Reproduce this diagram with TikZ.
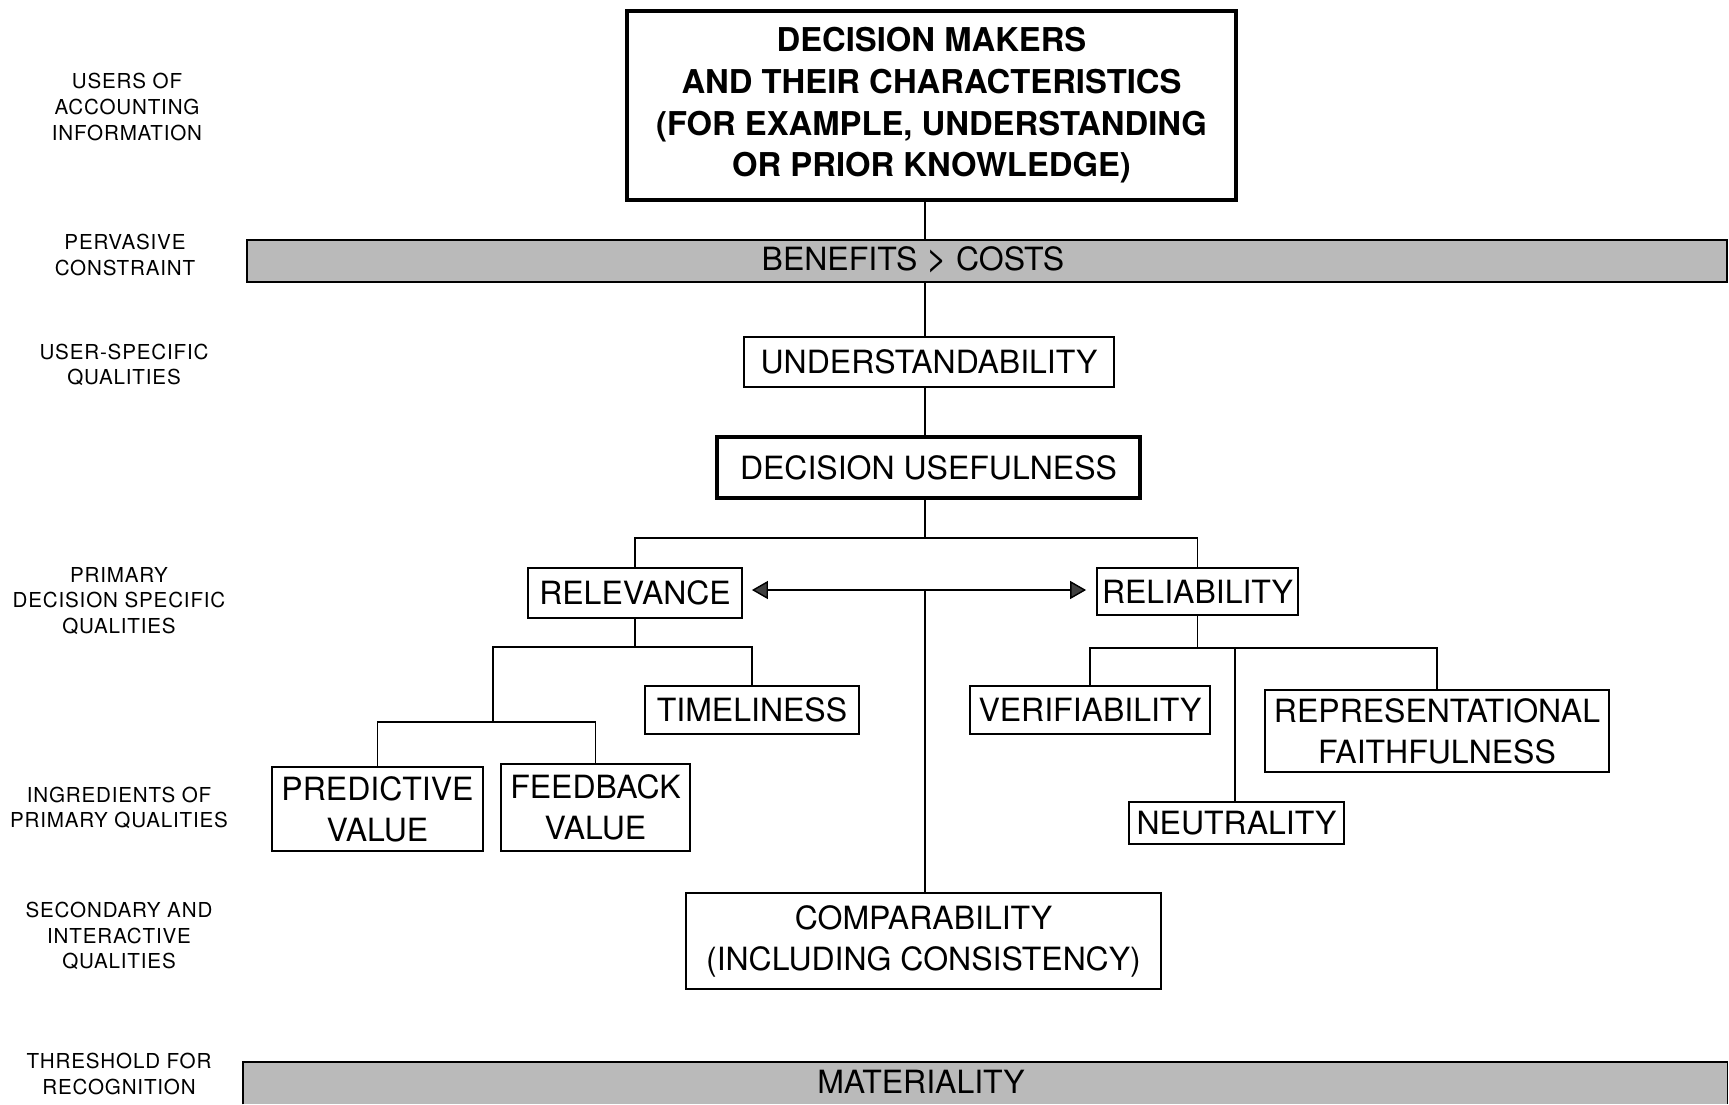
\documentclass[tikz,border=0pt]{standalone}
\usepackage{fontspec}
\setmainfont{TeX Gyre Heros}
\newfontfamily\labfont{TeX Gyre Heros}[LetterSpace=4]
\usetikzlibrary{arrows.meta}
\tikzset{
  x=0.5pt, y=-0.5pt,
  box/.style={draw, line width=0.9pt, inner sep=0pt, align=center,
    font=\fontsize{16}{20.5}\selectfont},
  heavybox/.style={box, line width=2pt},
  band/.style={fill=black!27, inner sep=0pt},
  bandtext/.style={inner sep=0pt, font=\fontsize{16}{20}\selectfont},
  lab/.style={inner sep=0pt, align=center, font=\labfont\fontsize{10.3}{12.8}\selectfont},
  conn/.style={line width=0.7pt},
  dbl/.style={conn, {Triangle[length=8pt,width=9pt,fill=black!75]}-{Triangle[length=8pt,width=9pt,fill=black!75]}}
}
\begin{document}
\begin{tikzpicture}
\useasboundingbox (0,0) rectangle (1729,1104);

% left-hand labels
\node[lab] (l1) at (127,107) {USERS OF\\ACCOUNTING\\INFORMATION};
\node[lab] (l2) at (125,255) {PERVASIVE\\CONSTRAINT};
\node[lab] (l3) at (124,365) {USER-SPECIFIC\\QUALITIES};
\node[lab] (l4) at (119,601) {PRIMARY\\DECISION SPECIFIC\\QUALITIES};
\node[lab] (l5) at (119,808) {INGREDIENTS OF\\PRIMARY QUALITIES};
\node[lab] (l6) at (119,936) {SECONDARY AND\\INTERACTIVE\\QUALITIES};
\node[lab] (l7) at (119,1074) {THRESHOLD FOR\\RECOGNITION};

% boxes
\node[heavybox, minimum width=304.5pt, minimum height=94.5pt,
  font=\bfseries\fontsize{16.4}{20.8}\selectfont] (top) at (931.5,105.5)
  {DECISION MAKERS\\AND THEIR CHARACTERISTICS\\(FOR EXAMPLE, UNDERSTANDING\\OR PRIOR KNOWLEDGE)};

\node[band, draw, line width=0.9pt, minimum width=740pt, minimum height=21pt] (bc) at (987,261) {};
\node[bandtext] (bct) at (913,260) {BENEFITS {\fontsize{18}{20}\selectfont >} COSTS};

\node[box, minimum width=185pt, minimum height=25pt] (und) at (929,362) {UNDERSTANDABILITY};
\node[heavybox, minimum width=211.5pt, minimum height=30.5pt] (du) at (928.5,467.5) {DECISION USEFULNESS};

\node[box, minimum width=107pt, minimum height=25pt] (rel) at (635,593) {RELEVANCE};
\node[box, minimum width=100.5pt, minimum height=23.5pt] (relb) at (1197.5,591.5) {RELIABILITY};

\node[box, minimum width=107pt, minimum height=24pt] (tim) at (752,710) {TIMELINESS};
\node[box, minimum width=105.5pt, minimum height=42pt] (pred) at (377.5,809) {PREDICTIVE\\VALUE};
\node[box, minimum width=94.5pt, minimum height=43.5pt] (feed) at (595.5,807.5) {FEEDBACK\\VALUE};

\node[box, minimum width=120pt, minimum height=24pt] (ver) at (1090,710) {VERIFIABILITY};
\node[box, minimum width=172pt, minimum height=41pt] (rep) at (1437,731) {REPRESENTATIONAL\\FAITHFULNESS};
\node[box, minimum width=107.5pt, minimum height=21pt] (neu) at (1236.5,823) {NEUTRALITY};

\node[box, minimum width=237.5pt, minimum height=48pt] (comp) at (923.5,941) {COMPARABILITY\\(INCLUDING CONSISTENCY)};

\node[band, minimum width=742pt, minimum height=21pt] (mat) at (985,1083) {};
\draw[line width=0.9pt] (mat.south west) -- (mat.north west) -- (mat.north east) -- (mat.south east);
\node[bandtext] (matt) at (921,1082) {MATERIALITY};

% junction coordinates
\coordinate (sp) at (925,0);
\coordinate (j1) at (925,538);
\coordinate (ar) at (925,590);
\coordinate (j2) at (493,647);
\coordinate (j3) at (493,722);
\coordinate (j4) at (1235,648);

% connectors
\draw[conn] (top.south -| sp) -- (bc.north -| sp);
\draw[conn] (bc.south -| sp) -- (und.north -| sp);
\draw[conn] (und.south -| sp) -- (du.north -| sp);
\draw[conn] (du.south -| sp) -- (j1);
\draw[conn] (rel.north) |- (j1) -| (relb.north);
\draw[dbl, shorten <=4.5pt, shorten >=5pt] (rel.east |- ar) -- (relb.west |- ar);
\draw[conn] (ar) -- (comp.north -| ar);

\draw[conn] (rel.south) -- (rel.south |- j2);
\draw[conn] (j3) -- (j2) -| (tim.north);
\draw[conn] (pred.north) |- (j3) -| (feed.north);

\draw[conn] (relb.south) -- (relb.south |- j4);
\draw[conn] (ver.north) |- (j4) -| (rep.north);
\draw[conn] (j4) -- (neu.north -| j4);
\end{tikzpicture}
\end{document}
